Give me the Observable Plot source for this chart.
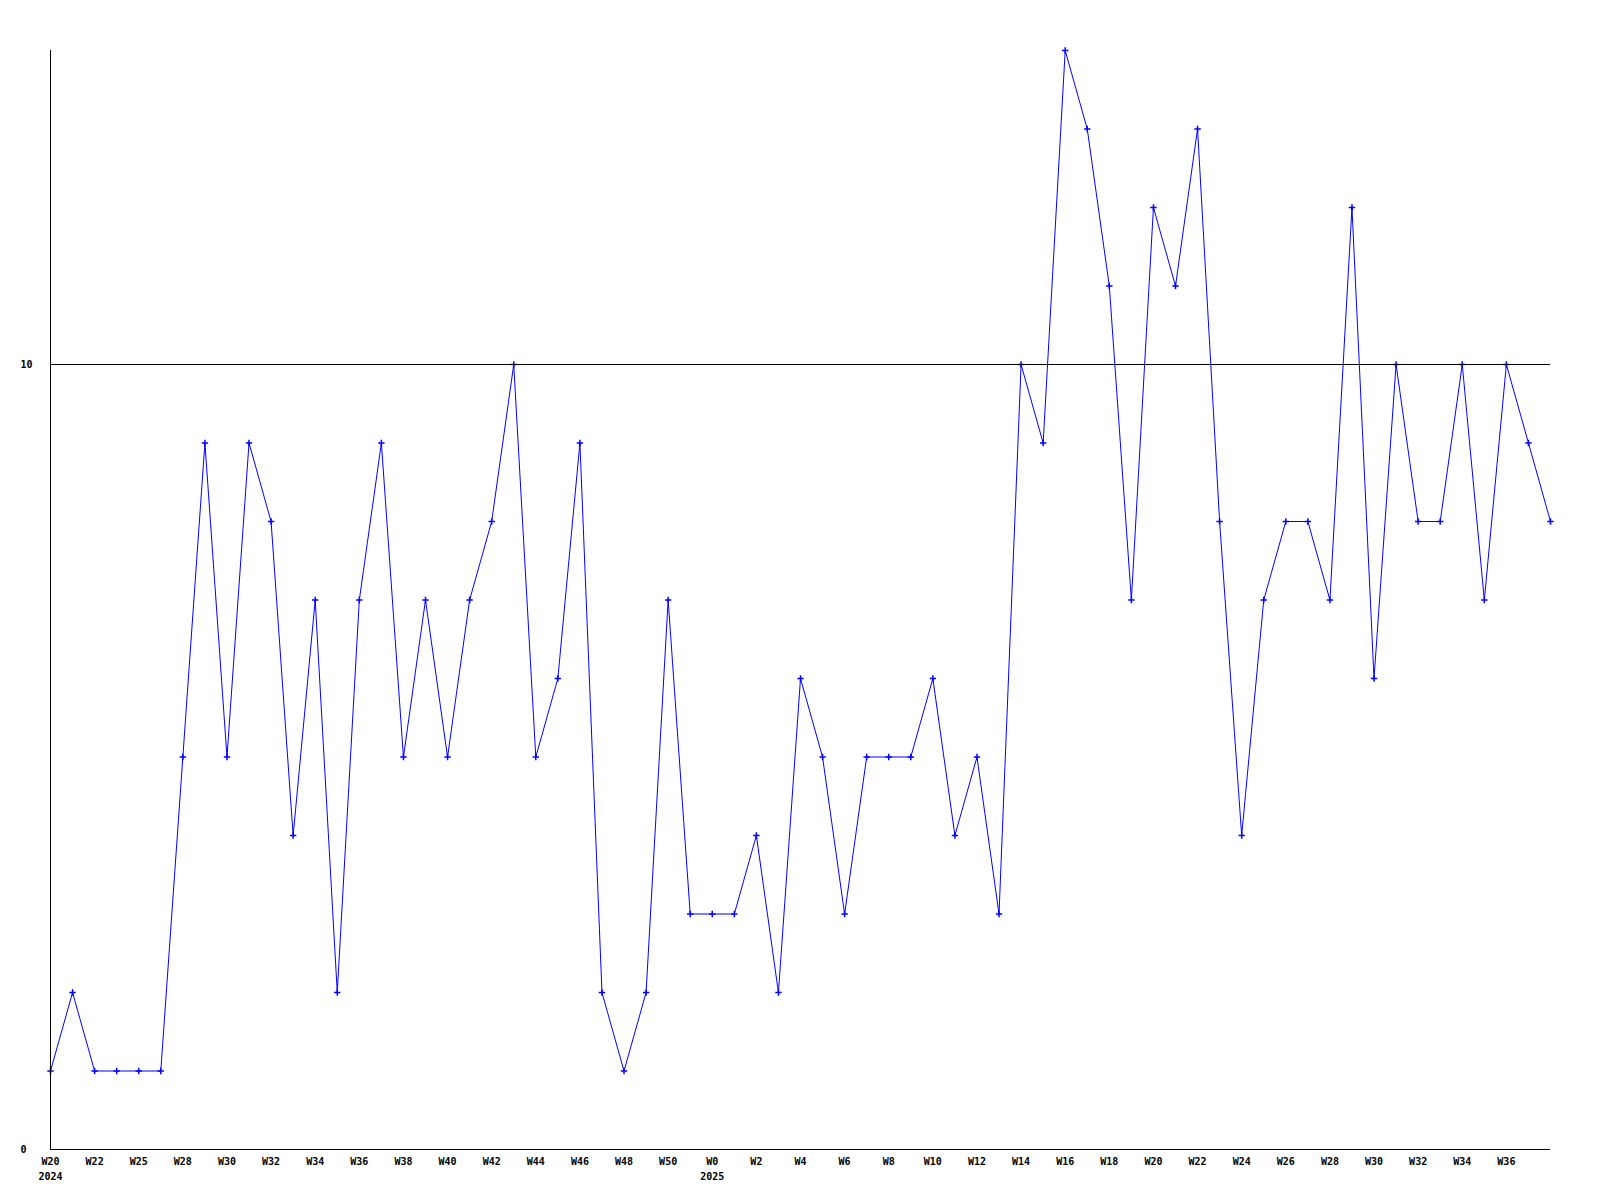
<!DOCTYPE html>
<html>
<head>
<meta charset="utf-8">
<script src="https://cdn.jsdelivr.net/npm/d3@7"></script>
<script src="https://cdn.jsdelivr.net/npm/@observablehq/plot@0.6"></script>
<style>
  html, body { margin: 0; padding: 0; background: #fff; }
  #chart svg { display: block; }
</style>
</head>
<body>
<div id="chart"></div>
<script>
// Weekly counts, one per point (69 weeks, 2024 W20 .. 2025)
const values = [1, 2, 1, 1, 1, 1, 5, 9, 5, 9, 8, 4, 7, 2, 7, 9, 5, 7, 5, 7,
  8, 10, 5, 6, 9, 2, 1, 2, 7, 3, 3, 3, 4, 2, 6, 5, 3, 5, 5, 5,
  6, 4, 5, 3, 10, 9, 14, 13, 11, 7, 12, 11, 13, 8, 4, 7, 8, 8, 7, 12,
  6, 10, 8, 8, 10, 7, 10, 9, 8];
// Tick labels shown at every second point
const weekLabels = ["W20", "W22", "W25", "W28", "W30", "W32", "W34", "W36", "W38", "W40",
  "W42", "W44", "W46", "W48", "W50", "W0", "W2", "W4", "W6", "W8",
  "W10", "W12", "W14", "W16", "W18", "W20", "W22", "W24", "W26", "W28",
  "W30", "W32", "W34", "W36"];
const yearLabels = ["2024", "2025"];
const yearLabelIndex = [0, 30];
const yTicks = [0, 10];
const refLevel = [10];

const data = values.map((v, i) => ({i, v}));
const tickPositions = weekLabels.map((_, k) => k * 2);
const years = yearLabels.map((y, k) => ({i: yearLabelIndex[k], y}));

const font = "'DejaVu Sans Mono', monospace";

const chart = Plot.plot({
  width: 1600,
  height: 1200,
  marginLeft: 50,
  marginRight: 50,
  marginTop: 50,
  marginBottom: 51,
  style: {fontFamily: font, fontSize: "10px", fontWeight: "bold", background: "#fff", color: "#000"},
  x: {domain: [0, values.length - 1], axis: null},
  y: {domain: [0, 14], axis: null},
  marks: [
    Plot.line(data, {x: "i", y: "v", stroke: "#0000ff", strokeWidth: 1}),
    Plot.dot(data, {x: "i", y: "v", symbol: "plus", r: 2.2, stroke: "#0000ff", strokeWidth: 1.5}),
    Plot.ruleY(refLevel, {stroke: "#000", strokeWidth: 1}),
    Plot.ruleX([0], {stroke: "#000", strokeWidth: 1}),
    Plot.ruleY([0], {stroke: "#000", strokeWidth: 1}),
    Plot.axisX(tickPositions, {
      tickSize: 0, tickPadding: 8,
      tickFormat: (d) => weekLabels[d / 2],
      fontFamily: font, fontSize: 10, fontWeight: "bold",
      label: null, anchor: "bottom"
    }),
    Plot.text(years, {
      x: "i", text: "y", frameAnchor: "bottom", dy: 30,
      fontFamily: font, fontSize: 10, fontWeight: "bold", fill: "#000"
    }),
    Plot.axisY(yTicks, {
      tickSize: 0, tickPadding: 30, textAnchor: "start",
      tickFormat: (d) => String(d),
      fontFamily: font, fontSize: 10, fontWeight: "bold",
      label: null, anchor: "left"
    })
  ]
});
document.getElementById("chart").appendChild(chart);
</script>
</body>
</html>
